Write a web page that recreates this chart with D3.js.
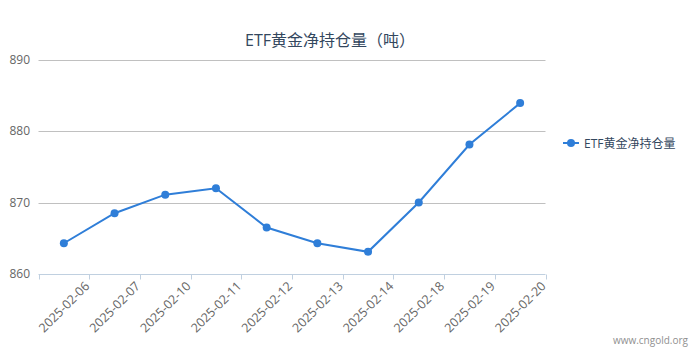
<!DOCTYPE html>
<html>
<head>
<meta charset="utf-8">
<script src="https://cdn.jsdelivr.net/npm/d3@7"></script>
<style>
  body { margin: 0; background: #fff; }
  svg { display: block; font-family: "Open Sans", "Noto Sans CJK SC", sans-serif; }
</style>
</head>
<body>
<div id="chart"></div>
<script>
// chart data
var dates = ["2025-02-06", "2025-02-07", "2025-02-10", "2025-02-11", "2025-02-12",
             "2025-02-13", "2025-02-14", "2025-02-18", "2025-02-19", "2025-02-20"]
var holdings = [864.3, 868.5, 871.1, 872.0, 866.5, 864.3, 863.1, 870.0, 878.1, 883.9]
var yTicks = [860, 870, 880, 890]
var seriesName = "ETF黄金净持仓量"
var titleText = "ETF黄金净持仓量（吨）"

var width = 692,
    height = 357
var plotLeft = 38.5, plotRight = 545.5, plotTop = 59.5, plotBottom = 274

var svg = d3.select("#chart")
  .append("svg")
    .attr("width", width)
    .attr("height", height)

var x = d3.scaleBand()
  .domain(dates)
  .range([plotLeft, plotRight])

var y = d3.scaleLinear()
  .domain([860, 890])
  .range([plotBottom, plotTop])

// title
svg.append("text")
  .attr("x", 330)
  .attr("y", 46)
  .attr("text-anchor", "middle")
  .style("font-size", "16px")
  .style("fill", "#33475e")
  .text(titleText)

// grid lines
svg.append("g")
  .selectAll("line")
  .data(yTicks.filter(function(d) { return d != 860 }))
  .enter()
  .append("line")
    .attr("x1", plotLeft)
    .attr("x2", plotRight)
    .attr("y1", function(d) { return Math.round(y(d)) + 0.5 })
    .attr("y2", function(d) { return Math.round(y(d)) + 0.5 })
    .attr("stroke", "#c0c0c0")
    .attr("stroke-width", 1)

// y labels
svg.append("g")
  .selectAll("text")
  .data(yTicks)
  .enter()
  .append("text")
    .attr("x", 30)
    .attr("y", function(d) { return y(d) + 4 })
    .attr("text-anchor", "end")
    .style("font-size", "12px")
    .style("fill", "#666")
    .text(function(d) { return d })

// x axis line and ticks
var xg = svg.append("g")
xg.append("line")
  .attr("x1", plotLeft)
  .attr("x2", plotRight)
  .attr("y1", Math.round(plotBottom) + 0.5)
  .attr("y2", Math.round(plotBottom) + 0.5)
  .attr("stroke", "#c0d0e0")

var tickPos = [plotLeft].concat(dates.map(function(d) { return x(d) + x.bandwidth() }))
xg.selectAll(".tick")
  .data(tickPos)
  .enter()
  .append("line")
    .attr("class", "tick")
    .attr("x1", function(d) { return Math.round(d) + 0.5 })
    .attr("x2", function(d) { return Math.round(d) + 0.5 })
    .attr("y1", Math.round(plotBottom) + 0.5)
    .attr("y2", Math.round(plotBottom) + 5.5)
    .attr("stroke", "#c0d0e0")

// x labels, rotated
xg.selectAll(".lbl")
  .data(dates)
  .enter()
  .append("text")
    .attr("class", "lbl")
    .attr("text-anchor", "end")
    .attr("transform", function(d) {
      return "translate(" + (x(d) + x.bandwidth() + 1) + "," + (plotBottom + 13) + ") rotate(-45)"
    })
    .style("font-size", "12.5px")
    .style("fill", "#666")
    .text(function(d) { return d })

// the line
var line = d3.line()
  .x(function(d, i) { return x(dates[i]) + x.bandwidth() / 2 })
  .y(function(d) { return y(d) })

svg.append("path")
  .datum(holdings)
  .attr("d", line)
  .attr("fill", "none")
  .attr("stroke", "#2f7ed8")
  .attr("stroke-width", 2)

svg.append("g")
  .selectAll("circle")
  .data(holdings)
  .enter()
  .append("circle")
    .attr("cx", function(d, i) { return x(dates[i]) + x.bandwidth() / 2 })
    .attr("cy", function(d) { return y(d) })
    .attr("r", 4)
    .attr("fill", "#2f7ed8")

// legend
var lg = svg.append("g").attr("transform", "translate(563,143)")
lg.append("line")
  .attr("x1", 0).attr("x2", 16)
  .attr("stroke", "#2f7ed8")
  .attr("stroke-width", 2)
lg.append("circle")
  .attr("cx", 8).attr("r", 4)
  .attr("fill", "#2f7ed8")
lg.append("text")
  .attr("x", 21)
  .attr("y", 4.5)
  .style("font-size", "12px")
  .style("fill", "#33475e")
  .text(seriesName)

// credits
svg.append("text")
  .attr("x", 688)
  .attr("y", 344)
  .attr("text-anchor", "end")
  .style("font-size", "10px")
  .style("fill", "#909090")
  .text("www.cngold.org")
</script>
</body>
</html>
